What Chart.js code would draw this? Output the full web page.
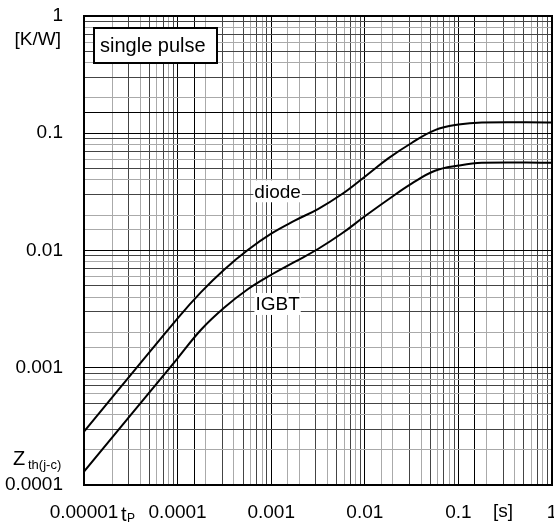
<!DOCTYPE html>
<html>
<head>
<meta charset="utf-8">
<script src="https://cdn.jsdelivr.net/npm/chart.js@4.4.0/dist/chart.umd.min.js"></script>
<style>
html, body { margin: 0; padding: 0; background: #fff; }
</style>
</head>
<body>
<canvas id="zth" width="554" height="526"></canvas>
<script>
// pulse duration tp [s] and transient thermal impedance Zth(j-c) [K/W]
var t      = [1e-5, 1e-4, 1.78e-4, 3.16e-4, 5.62e-4, 1e-3, 1.78e-3, 3.16e-3, 5.62e-3, 1e-2, 1.78e-2, 3.16e-2, 5.62e-2, 0.1, 0.178, 1];
var zDiode = [2.85e-4, 2.64e-3, 4.42e-3, 6.9e-3, 1.01e-2, 1.393e-2, 1.796e-2, 2.259e-2, 3.003e-2, 4.26e-2, 6.1e-2, 8.26e-2, 0.1064, 0.1187, 0.1237, 0.1237];
var zIgbt  = [1.3e-4, 1.204e-3, 2.107e-3, 3.258e-3, 4.67e-3, 6.21e-3, 7.99e-3, 1.03e-2, 1.388e-2, 1.957e-2, 2.723e-2, 3.72e-2, 4.79e-2, 5.3e-2, 5.6e-2, 5.6e-2];

var xDecades = [1e-5, 1e-4, 1e-3, 1e-2, 1e-1, 1];
var xLabels  = ['0.00001', '0.0001', '0.001', '0.01', '0.1', '1'];
var yDecades = [1e-4, 1e-3, 1e-2, 1e-1, 1];
var yLabels  = ['0.0001', '0.001', '0.01', '0.1', '1'];

// curve names and where they sit (in data units)
var curveNames = ['diode', 'IGBT'];
var nameT = [1.17e-3, 1.17e-3];
var nameZ = [0.032, 0.0035];

var FONT = '"Liberation Sans", Arial, Helvetica, sans-serif';

function pts(xs, ys) {
    var out = [];
    for (var i = 0; i < xs.length; i++) out.push({x: xs[i], y: ys[i]});
    return out;
}

function decadeLabel(v, decs, labs) {
    for (var i = 0; i < decs.length; i++) {
        if (Math.abs(v / decs[i] - 1) < 1e-6) return labs[i];
    }
    return '';
}

function gridColor(ctx) {
    var v = ctx.tick ? ctx.tick.value : 0;
    if (!v) return '#000';
    var m = Math.round(v / Math.pow(10, Math.floor(Math.log10(v) + 1e-9)));
    if (m === 1 || m === 10) return '#000';
    return (m % 2) ? '#444' : '#aaa';
}

var deco = {
    id: 'deco',
    beforeDatasetsDraw: function(chart) {
        var c = chart.ctx, xs = chart.scales.x, ys = chart.scales.y;
        c.save();
        c.font = '19px ' + FONT;
        c.textAlign = 'center';
        c.textBaseline = 'middle';
        for (var i = 0; i < curveNames.length; i++) {
            var px = xs.getPixelForValue(nameT[i]);
            var py = ys.getPixelForValue(nameZ[i]);
            var w = c.measureText(curveNames[i]).width;
            c.fillStyle = '#fff';
            c.fillRect(px - w / 2 - 1, py - 11, w + 2, 22);
            c.fillStyle = '#000';
            c.fillText(curveNames[i], px, py + 1);
        }
        c.restore();
    },
    afterDraw: function(chart) {
        var c = chart.ctx, a = chart.chartArea;
        c.save();
        // frame
        c.strokeStyle = '#000';
        c.lineWidth = 2;
        c.strokeRect(a.left, a.top, a.right - a.left, a.bottom - a.top);

        // single pulse box
        c.fillStyle = '#fff';
        c.fillRect(a.left + 10, a.top + 12, 123, 35);
        c.strokeRect(a.left + 10, a.top + 12, 123, 35);
        c.fillStyle = '#000';
        c.font = '20px ' + FONT;
        c.textAlign = 'left';
        c.textBaseline = 'middle';
        c.fillText('single pulse', a.left + 16, a.top + 30);

        // y unit and quantity
        c.font = '19px ' + FONT;
        c.textAlign = 'right';
        c.fillText('[K/W]', 61, 40);
        c.textAlign = 'left';
        c.textBaseline = 'alphabetic';
        c.font = '20px ' + FONT;
        c.fillText('Z', 13, 465);
        c.font = '13px ' + FONT;
        c.fillText('th(j-c)', 28, 469);

        // x unit and quantity
        c.font = '20px ' + FONT;
        c.fillText('t', 121, 521);
        c.font = '12px ' + FONT;
        c.fillText('P', 127, 522);
        c.font = '19px ' + FONT;
        c.textBaseline = 'middle';
        c.fillText('[s]', 493, 512);
        c.restore();
    }
};

var chart = new Chart(document.getElementById('zth').getContext('2d'), {
    type: 'line',
    data: {
        datasets: [{
            label: 'diode',
            data: pts(t, zDiode),
            borderColor: '#000',
            borderWidth: 2,
            pointRadius: 0,
            tension: 0.4
        }, {
            label: 'IGBT',
            data: pts(t, zIgbt),
            borderColor: '#000',
            borderWidth: 2,
            pointRadius: 0,
            tension: 0.4
        }]
    },
    options: {
        responsive: false,
        animation: false,
        layout: { padding: { top: 16, right: 2, left: 0, bottom: 0 } },
        plugins: { legend: { display: false }, tooltip: { enabled: false } },
        scales: {
            x: {
                type: 'logarithmic',
                min: 1e-5,
                max: 1,
                grid: { color: gridColor, lineWidth: 1, drawTicks: false },
                border: { display: true, color: '#000', width: 2 },
                ticks: {
                    autoSkip: false,
                    maxRotation: 0,
                    padding: 16,
                    color: '#000',
                    font: { family: FONT, size: 19 },
                    callback: function(v) { return decadeLabel(v, xDecades, xLabels); }
                },
                afterFit: function(s) { s.height = 41; s.paddingLeft = 0; s.paddingRight = 0; }
            },
            y: {
                type: 'logarithmic',
                min: 1e-4,
                max: 1,
                grid: { color: gridColor, lineWidth: 1, drawTicks: false },
                border: { display: true, color: '#000', width: 2 },
                ticks: {
                    autoSkip: false,
                    padding: 21,
                    color: '#000',
                    font: { family: FONT, size: 19 },
                    callback: function(v) { return decadeLabel(v, yDecades, yLabels); }
                },
                afterFit: function(s) { s.width = 84; s.paddingTop = 0; s.paddingBottom = 0; }
            }
        }
    },
    plugins: [deco]
});
</script>
</body>
</html>
